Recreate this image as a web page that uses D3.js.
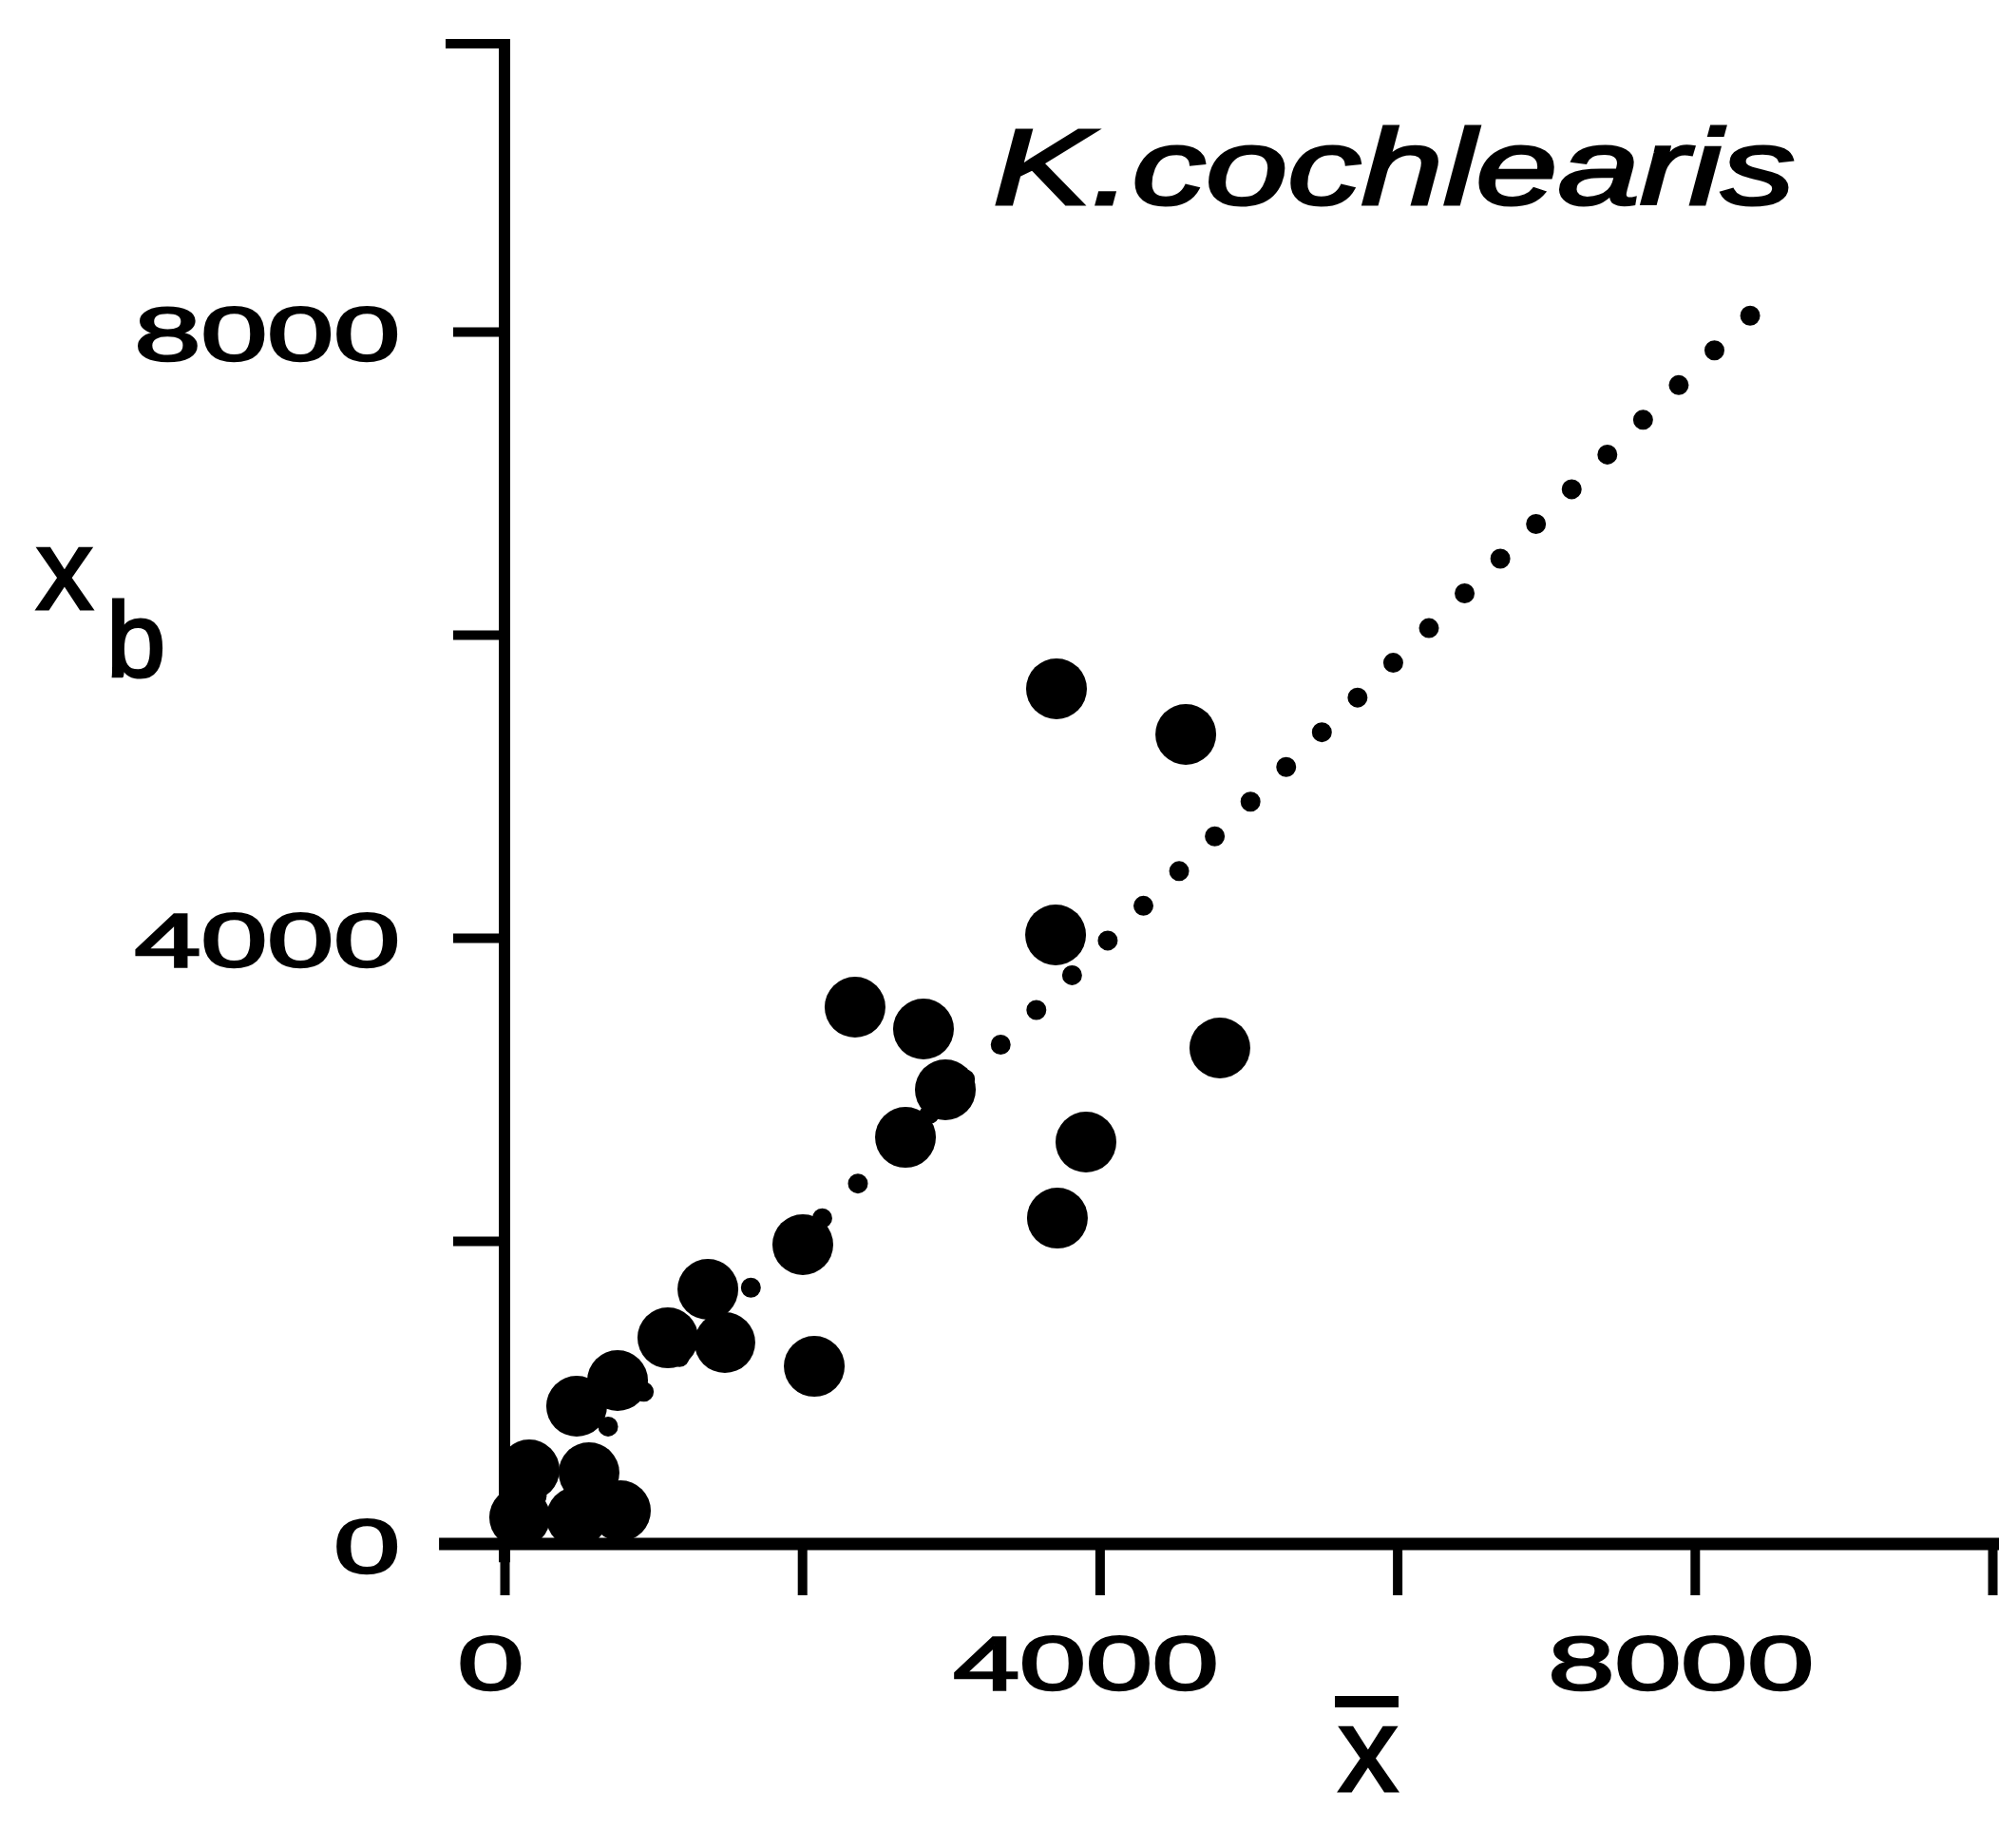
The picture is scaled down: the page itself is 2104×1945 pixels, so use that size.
<!DOCTYPE html>
<html>
<head>
<meta charset="utf-8">
<script src="https://cdn.jsdelivr.net/npm/d3@7"></script>
<style>
  html, body { margin: 0; padding: 0; background: #fff; }
  text { font-family: "Liberation Sans", Arial, Helvetica, sans-serif; fill: #000; }
</style>
</head>
<body>
<div id="chart"></div>
<script>
// mean abundance (x bar) and estimated value (x_b) per sample
const xbar = [3710, 4579, 3704, 2356, 2816, 4808, 2963, 2695, 3908, 3716, 2005,
              2082, 1367, 1098, 1481, 760, 485, 166, 102, 568, 779, 485];
const xb   = [5643, 5342, 4019, 3542, 3398, 3273, 2997, 2683, 2652, 2150, 1975,
              1172, 1680, 1360, 1329, 1078, 909, 489, 176, 470, 219, 176];

// dotted fitted line, two end points
const fitX = [8372, 0];
const fitY = [8105, 110];

const yTicks = [0, 2000, 4000, 6000, 8000];
const yLabelTicks = [0, 4000, 8000];
const xTicks = [0, 2000, 4000, 6000, 8000, 10000];
const xLabelTicks = [0, 4000, 8000];
const title = "K.cochlearis";

const width = 2104, height = 1945;

const svg = d3.select("#chart").append("svg")
  .attr("width", width)
  .attr("height", height);

svg.append("rect").attr("width", width).attr("height", height).attr("fill", "#fff");

const x = d3.scaleLinear().domain([0, 10000]).range([531, 2097]);
const y = d3.scaleLinear().domain([0, 10000]).range([1625, 30]);

// points
svg.append("g")
  .selectAll("circle")
  .data(xbar.map((d, i) => [d, xb[i]]))
  .join("circle")
  .attr("cx", d => x(d[0]))
  .attr("cy", d => y(d[1]))
  .attr("r", 32)
  .attr("fill", "#000");

// dotted line
const line = d3.line().x(d => x(d[0])).y(d => y(d[1]));
svg.append("path")
  .attr("d", line(fitX.map((d, i) => [d, fitY[i]])))
  .attr("fill", "none")
  .attr("stroke", "#000")
  .attr("stroke-width", 21)
  .attr("stroke-linecap", "round")
  .attr("stroke-dasharray", "0 52.4");

const fmt = d3.format("d");
const sx = 1.57;

// y axis
const yAxis = svg.append("g")
  .attr("transform", `translate(${x(0)},0)`)
  .call(d3.axisLeft(y).tickValues(yTicks).tickSize(54).tickSizeOuter(0)
    .tickFormat(d => yLabelTicks.includes(d) ? fmt(d) : ""));
yAxis.select(".domain").remove();
yAxis.selectAll(".tick line").attr("stroke", "#000").attr("stroke-width", 10);
yAxis.selectAll(".tick text")
  .attr("x", null).attr("dy", null)
  .attr("transform", `translate(-110,29) scale(${sx},1)`)
  .attr("text-anchor", "end")
  .style("font-size", "80px")
  .attr("stroke", "#000").attr("stroke-width", 2.5);

// top end tick and line of the y axis
svg.append("line")
  .attr("x1", x(0) - 62).attr("x2", x(0))
  .attr("y1", y(9900)).attr("y2", y(9900))
  .attr("stroke", "#000").attr("stroke-width", 10);
svg.append("line")
  .attr("x1", x(0)).attr("x2", x(0))
  .attr("y1", y(9900) - 5).attr("y2", y(-120))
  .attr("stroke", "#000").attr("stroke-width", 12);

// x axis
const xAxis = svg.append("g")
  .attr("transform", `translate(0,${y(0)})`)
  .call(d3.axisBottom(x).tickValues(xTicks).tickSize(54).tickSizeOuter(0)
    .tickFormat(d => xLabelTicks.includes(d) ? fmt(d) : ""));
xAxis.select(".domain").remove();
xAxis.selectAll(".tick line").attr("stroke", "#000").attr("stroke-width", 10);
xAxis.selectAll(".tick text")
  .attr("y", null).attr("dy", null)
  .attr("transform", `translate(-15,153) scale(${sx},1)`)
  .attr("text-anchor", "middle")
  .style("font-size", "80px")
  .attr("stroke", "#000").attr("stroke-width", 2.5);
svg.append("line")
  .attr("x1", x(-440)).attr("x2", x(10050))
  .attr("y1", y(0)).attr("y2", y(0))
  .attr("stroke", "#000").attr("stroke-width", 13);

// title
svg.append("text")
  .attr("transform", "translate(1045,215) scale(1.36,1)")
  .style("font-size", "114px")
  .style("font-style", "italic")
  .attr("stroke", "#000").attr("stroke-width", 3)
  .text(title);

// axis titles
const xLab = svg.append("g").attr("transform", "translate(1440,1885)");
xLab.append("text")
  .attr("text-anchor", "middle")
  .style("font-size", "126px")
  .attr("stroke", "#000").attr("stroke-width", 3)
  .text("x");
xLab.append("line")
  .attr("x1", -35).attr("x2", 32)
  .attr("y1", -94).attr("y2", -94)
  .attr("stroke", "#000").attr("stroke-width", 12);

const yLab = svg.append("text")
  .attr("x", 38).attr("y", 641)
  .style("font-size", "120px")
  .attr("stroke", "#000").attr("stroke-width", 3);
yLab.append("tspan").text("x");
yLab.append("tspan")
  .attr("x", 112).attr("y", 712)
  .style("font-size", "112px")
  .text("b");
</script>
</body>
</html>
